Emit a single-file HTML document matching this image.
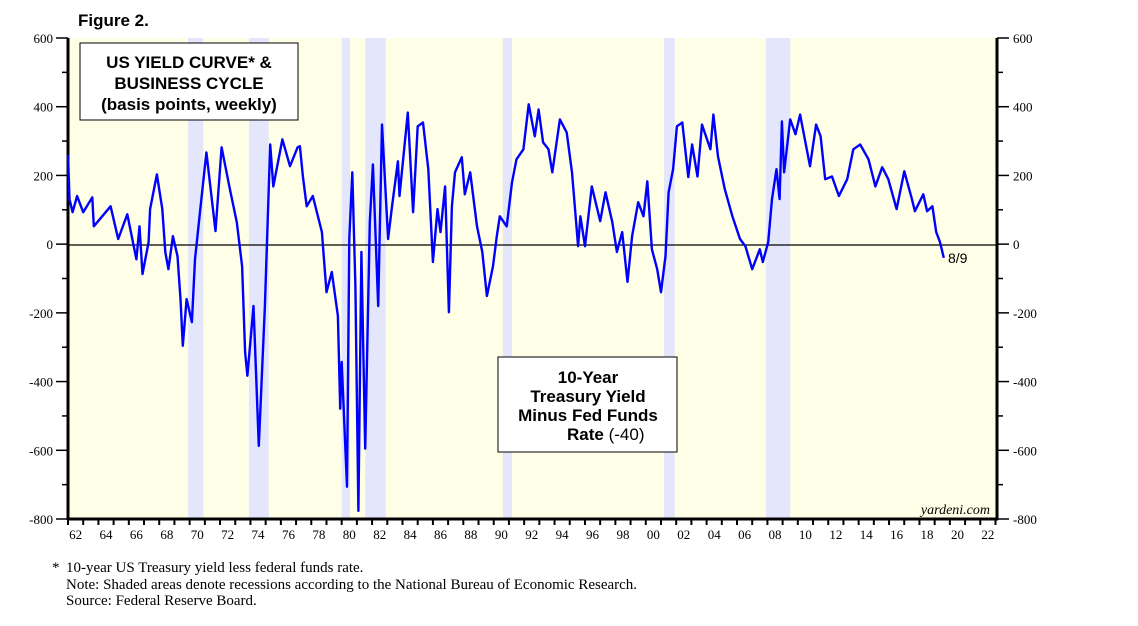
<!DOCTYPE html>
<html><head><meta charset="utf-8"><style>
body{margin:0;background:#fff;}
svg text{font-family:"Liberation Serif",serif;}
</style></head><body>
<svg id="chart" width="1138" height="621" viewBox="0 0 1138 621" xmlns="http://www.w3.org/2000/svg">
<text x="78" y="26" style="font-family:'Liberation Sans',sans-serif" font-weight="bold" font-size="17">Figure 2.</text>
<rect x="68" y="38" width="929" height="481" fill="#fffee6"/>
<g id="rec"></g>
<line x1="68" x2="997" y1="245" y2="245" stroke="#000" stroke-width="1.3"/>
<g id="axes"></g>
<path id="series" fill="none" stroke="#0000ff" stroke-width="2.4" stroke-linejoin="round"/>
<text x="948" y="263" font-size="14" style="font-family:'Liberation Sans',sans-serif">8/9</text>
<g>
<rect x="80" y="43" width="218" height="77" fill="#fff" stroke="#000" stroke-width="1"/>
<text x="189" y="68" text-anchor="middle" font-size="17" font-weight="bold" style="font-family:'Liberation Sans',sans-serif">US YIELD CURVE* &amp;</text>
<text x="189" y="89" text-anchor="middle" font-size="17" font-weight="bold" style="font-family:'Liberation Sans',sans-serif">BUSINESS CYCLE</text>
<text x="189" y="110" text-anchor="middle" font-size="17" font-weight="bold" style="font-family:'Liberation Sans',sans-serif">(basis points, weekly)</text>
</g>
<g>
<rect x="498" y="357" width="179" height="95" fill="#fff" stroke="#000" stroke-width="1"/>
<text x="588" y="383" text-anchor="middle" font-size="17" font-weight="bold" style="font-family:'Liberation Sans',sans-serif">10-Year</text>
<text x="588" y="402" text-anchor="middle" font-size="17" font-weight="bold" style="font-family:'Liberation Sans',sans-serif">Treasury Yield</text>
<text x="588" y="421" text-anchor="middle" font-size="17" font-weight="bold" style="font-family:'Liberation Sans',sans-serif">Minus Fed Funds</text>
<text x="567" y="440" font-size="17" style="font-family:'Liberation Sans',sans-serif"><tspan font-weight="bold">Rate</tspan> (-40)</text>
</g>
<text x="990" y="514" text-anchor="end" font-size="14" font-style="italic">yardeni.com</text>
<g font-size="15">
<text x="52" y="572">*</text>
<text x="66" y="572">10-year US Treasury yield less federal funds rate.</text>
<text x="66" y="589">Note: Shaded areas denote recessions according to the National Bureau of Economic Research.</text>
<text x="66" y="605">Source: Federal Reserve Board.</text>
</g>
</svg>
<script>
const recessions=[[1969.9,1970.9],[1973.9,1975.2],[1980.0,1980.55],[1981.55,1982.9],[1990.6,1991.2],[2001.2,2001.9],[2007.9,2009.5]];
const yTicks=[600,400,200,0,-200,-400,-600,-800];
const xYears=[62,64,66,68,70,72,74,76,78,80,82,84,86,88,90,92,94,96,98,"00","02","04","06","08",10,12,14,16,18,20,22];
const years=[1962.0,1962.1,1962.3,1962.6,1963.0,1963.6,1963.7,1964.8,1965.3,1965.9,1966.5,1966.7,1966.9,1967.3,1967.4,1967.85,1968.2,1968.4,1968.6,1968.9,1969.2,1969.4,1969.55,1969.8,1970.15,1970.35,1970.7,1971.1,1971.7,1972.1,1972.65,1973.1,1973.45,1973.65,1973.8,1974.2,1974.55,1974.95,1975.3,1975.5,1976.1,1976.6,1977.1,1977.25,1977.45,1977.7,1978.1,1978.7,1979.0,1979.35,1979.75,1979.9,1980.0,1980.35,1980.5,1980.7,1980.9,1981.1,1981.3,1981.55,1981.85,1982.05,1982.4,1982.65,1983.05,1983.3,1983.7,1983.8,1984.35,1984.7,1985.0,1985.35,1985.7,1986.0,1986.3,1986.5,1986.8,1987.05,1987.25,1987.45,1987.9,1988.1,1988.45,1988.9,1989.25,1989.55,1989.95,1990.2,1990.4,1990.85,1991.2,1991.5,1991.95,1992.3,1992.7,1992.95,1993.25,1993.6,1993.85,1994.35,1994.8,1995.15,1995.55,1995.7,1996.0,1996.45,1997.0,1997.35,1997.8,1998.1,1998.45,1998.8,1999.1,1999.5,1999.85,2000.1,2000.4,2000.75,2001.0,2001.3,2001.5,2001.8,2002.05,2002.4,2002.8,2003.05,2003.4,2003.7,2004.25,2004.45,2004.75,2005.2,2005.7,2006.2,2006.55,2007.0,2007.5,2007.7,2008.05,2008.3,2008.6,2008.8,2008.95,2009.1,2009.5,2009.85,2010.15,2010.8,2011.2,2011.5,2011.8,2012.25,2012.7,2013.25,2013.65,2014.1,2014.65,2015.1,2015.55,2015.95,2016.5,2017.0,2017.5,2017.7,2018.25,2018.5,2018.85,2019.1,2019.35,2019.6];
const spread=[260,131,93,140,93,136,52,110,15,87,-44,52,-87,6,102,203,102,-23,-73,23,-35,-160,-296,-160,-227,-44,102,267,38,282,160,64,-64,-314,-383,-180,-587,-180,290,168,305,227,282,285,197,110,140,35,-140,-81,-209,-479,-343,-706,15,209,-122,-776,-23,-595,64,232,-180,348,15,107,241,140,383,93,343,354,218,-52,102,35,168,-198,110,209,253,145,209,52,-23,-151,-64,23,81,52,180,247,276,407,314,392,296,276,209,363,325,209,-6,81,-6,168,67,151,64,-23,35,-110,23,122,81,183,-15,-73,-140,-35,151,218,343,354,195,290,197,348,276,377,255,160,81,15,-6,-73,-15,-52,6,131,218,131,357,209,363,320,377,227,348,314,189,197,140,189,276,290,247,168,224,189,102,212,131,96,145,96,110,35,6,-40];
const X0=68,X1=997,Y0=38,Y1=519,T0=1962,T1=2023.1,V0=600,V1=-800;
function xs(t){return X0+(t-T0)/(T1-T0)*(X1-X0);}
function ys(v){return Y0+(v-V0)/(V1-V0)*(Y1-Y0);}
const NS="http://www.w3.org/2000/svg";
function mk(tag,attrs,parent){const e=document.createElementNS(NS,tag);for(const k in attrs)e.setAttribute(k,attrs[k]);parent.appendChild(e);return e;}
const rec=document.getElementById('rec');
recessions.forEach(r=>{const e=mk('rect',{x:xs(r[0]),y:Y0,width:xs(r[1])-xs(r[0]),height:Y1-Y0,fill:'#e4e6fb'},rec);

});
const ax=document.getElementById('axes');
mk('line',{x1:X0,x2:X0,y1:Y0,y2:Y1+1,stroke:'#000','stroke-width':3},ax);
mk('line',{x1:X1,x2:X1,y1:Y0,y2:Y1+1,stroke:'#000','stroke-width':3},ax);
mk('line',{x1:X0-1,x2:X1+1,y1:Y1,y2:Y1,stroke:'#000','stroke-width':3},ax);
for(let v=600;v>=-800;v-=100){const y=ys(v);mk('line',{x1:X0-(v%200===0?12:6),x2:X0,y1:y,y2:y,stroke:'#000','stroke-width':1.5},ax);mk('line',{x1:X1,x2:X1+(v%200===0?12:6),y1:y,y2:y,stroke:'#000','stroke-width':1.5},ax);}
yTicks.forEach(v=>{const y=ys(v)+5;
const l=mk('text',{x:53,y:y,'text-anchor':'end','font-size':13},ax);l.textContent=v;


const r=mk('text',{x:1013,y:y,'font-size':13},ax);r.textContent=v;

});
for(let t=1962;t<=2023;t++){const x=xs(t);mk('line',{x1:x,x2:x,y1:Y1,y2:Y1+6,stroke:'#000','stroke-width':2},ax);}
xYears.forEach((lab,i)=>{const t=1962+2*i;const l=mk('text',{x:xs(t+0.5),y:539,'text-anchor':'middle','font-size':13},ax);l.textContent=lab;

});
let d='';years.forEach((t,i)=>{d+=(i?'L':'M')+xs(t).toFixed(1)+','+ys(spread[i]).toFixed(1);});
document.getElementById('series').setAttribute('d',d);
</script>
</body></html>
